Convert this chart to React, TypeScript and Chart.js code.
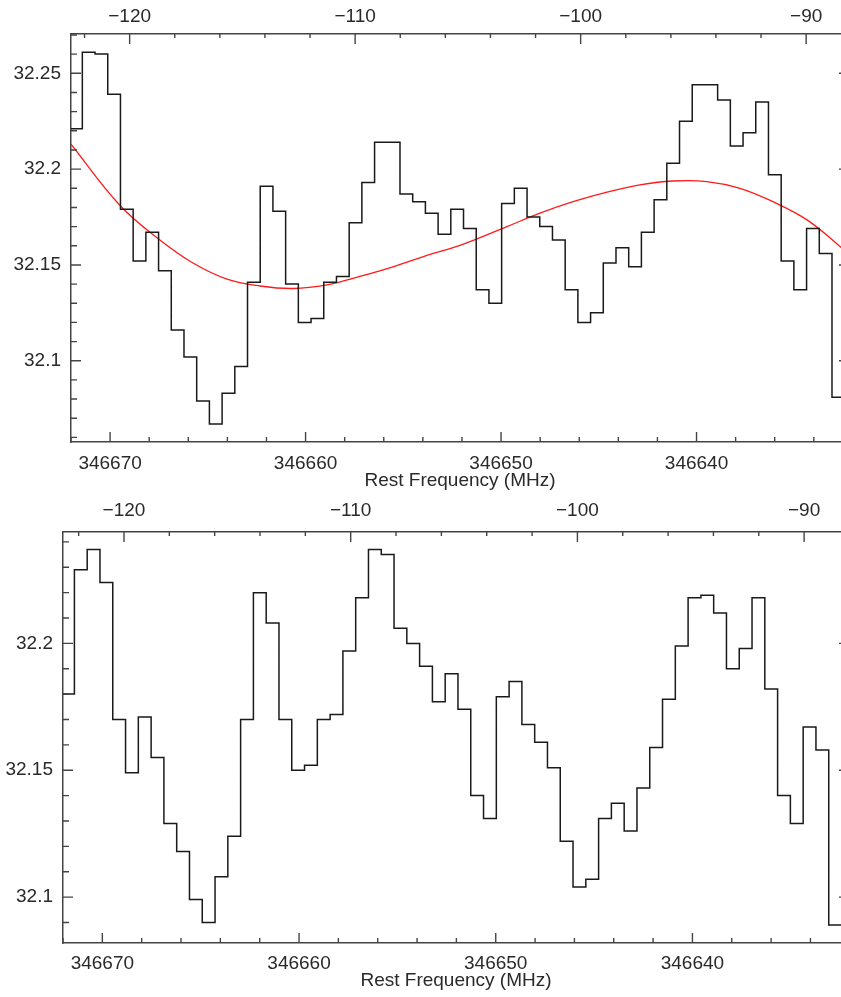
import React, { useEffect, useRef } from "react";
import { Chart, registerables } from "chart.js";

Chart.register(...registerables);

// Spectral axis: channel edges (MHz), channel width
const FIRST_CHANNEL_EDGE_MHZ = 346672.07;
const CHANNEL_WIDTH_MHZ = 0.65;

// Upper panel: spectrum (one value per channel) with baseline fit
const topSpectrum = [
  32.221, 32.261, 32.26, 32.239, 32.179, 32.152, 32.167, 32.147, 32.116, 32.102,
  32.079, 32.067, 32.083, 32.097, 32.141, 32.191, 32.178, 32.14, 32.12, 32.122,
  32.141, 32.144, 32.172, 32.193, 32.214, 32.214, 32.187, 32.183, 32.177, 32.166,
  32.179, 32.169, 32.137, 32.13, 32.182, 32.19, 32.175, 32.17, 32.163, 32.137,
  32.12, 32.125, 32.151, 32.159, 32.149, 32.167, 32.184, 32.203, 32.225, 32.244,
  32.244, 32.236, 32.212, 32.219, 32.235, 32.197, 32.152, 32.137, 32.169, 32.156,
  32.081,
];

// Lower panel: spectrum
const bottomSpectrum = [
  32.18, 32.229, 32.237, 32.224, 32.17, 32.149, 32.171, 32.155, 32.129, 32.118,
  32.099, 32.09, 32.108, 32.124, 32.17, 32.22, 32.208, 32.17, 32.15, 32.152,
  32.17, 32.172, 32.197, 32.218, 32.237, 32.235, 32.206, 32.2, 32.191, 32.177,
  32.188, 32.174, 32.14, 32.131, 32.179, 32.185, 32.168, 32.161, 32.151, 32.122,
  32.104, 32.107, 32.131, 32.137, 32.126, 32.143, 32.159, 32.178, 32.199, 32.218,
  32.219, 32.212, 32.19, 32.198, 32.218, 32.182, 32.14, 32.129, 32.167, 32.158,
  32.089,
];

// Red baseline fit (upper panel)
const fitFreqMHz = [
  346672.0, 346669.49, 346667.45, 346665.76, 346664.02, 346662.33, 346660.64,
  346658.91, 346657.22, 346655.53, 346653.79, 346652.1, 346649.7, 346648.01,
  346646.32, 346644.58, 346642.9, 346641.21, 346639.47, 346637.78, 346636.09,
  346634.35, 346632.66, 346632.2,
];
const fitFlux = [
  32.213, 32.181, 32.163, 32.151, 32.1426, 32.139, 32.1377, 32.1396, 32.144,
  32.149, 32.155, 32.1602, 32.17, 32.177, 32.183, 32.188, 32.1918, 32.1938,
  32.1935, 32.19, 32.183, 32.1735, 32.1596, 32.155,
];

// Tick labels
const freqLabelTicks = [346640, 346650, 346660, 346670];
const velocityLabelTicks = [-120, -110, -100, -90];
const fluxLabelTicks = [32.1, 32.15, 32.2, 32.25];

const FONT = { family: "'Liberation Sans', Arial, sans-serif", size: 19 };
const TEXT = "#2a2a2a";
const FRAME = "#444";
const STEP = "#1a1a1a";
const FIT = "#ff1a1a";

const near = (list: number[], v: number) => list.some((t) => Math.abs(t - v) < 1e-6);

function stepTicks(min: number, max: number, step: number) {
  const out: number[] = [];
  const a = Math.ceil(min / step - 1e-9);
  const b = Math.floor(max / step + 1e-9);
  for (let k = a; k <= b; k++) out.push(Number((k * step).toFixed(6)));
  return out;
}

const innerTicks = {
  id: "innerTicks",
  afterDraw(chart: any) {
    const { ctx, chartArea: a } = chart;
    const xs = chart.scales.x;
    const xv = chart.scales.xv;
    const y = chart.scales.y;
    ctx.save();
    ctx.strokeStyle = FRAME;
    ctx.lineWidth = 1.4;
    ctx.beginPath();
    for (const t of xs.ticks) {
      const p = xs.getPixelForValue(t.value);
      const L = near(freqLabelTicks, t.value) ? 10 : 5;
      ctx.moveTo(p, a.bottom);
      ctx.lineTo(p, a.bottom - L);
    }
    for (const t of xv.ticks) {
      const p = xv.getPixelForValue(t.value);
      const L = near(velocityLabelTicks, t.value) ? 10 : 4;
      ctx.moveTo(p, a.top);
      ctx.lineTo(p, a.top + L);
    }
    for (const t of y.ticks) {
      const p = y.getPixelForValue(t.value);
      const L = near(fluxLabelTicks, t.value) ? 10 : 6;
      ctx.moveTo(a.left, p);
      ctx.lineTo(a.left + L, p);
      ctx.moveTo(a.right, p);
      ctx.lineTo(a.right - L, p);
    }
    ctx.stroke();
    ctx.restore();
  },
};

type Panel = {
  height: number;
  left: number;
  topAxis: number;
  bottomAxis: number;
  freqMin: number;
  freqMax: number;
  velMin: number;
  velMax: number;
  yMin: number;
  yMax: number;
  spectrum: number[];
  withFit: boolean;
  topPad: number;
  bottomPad: number;
  titlePad: number;
};

const CANVAS_W = 849;

const panels: Panel[] = [
  {
    height: 495, left: 71, topAxis: 34, bottomAxis: 53,
    freqMin: 346632.2, freqMax: 346672.0, velMin: -122.6, velMax: -88.1,
    yMin: 32.0576, yMax: 32.2705, spectrum: topSpectrum, withFit: true,
    topPad: 6, bottomPad: 10, titlePad: 3,
  },
  {
    height: 502, left: 63, topAxis: 37, bottomAxis: 54,
    freqMin: 346632.04, freqMax: 346672.0, velMin: -122.69, velMax: -88.02,
    yMin: 32.0819, yMax: 32.2439, spectrum: bottomSpectrum, withFit: false,
    topPad: 10, bottomPad: 9, titlePad: 5,
  },
];

function buildConfig(p: Panel): any {
  const stepData = p.spectrum.map((v, i) => ({
    x: FIRST_CHANNEL_EDGE_MHZ - i * CHANNEL_WIDTH_MHZ,
    y: v,
  }));
  stepData.push({
    x: FIRST_CHANNEL_EDGE_MHZ - p.spectrum.length * CHANNEL_WIDTH_MHZ,
    y: p.spectrum[p.spectrum.length - 1],
  });
  const datasets: any[] = [
    {
      data: stepData,
      stepped: true,
      borderColor: STEP,
      borderWidth: 1.5,
      pointRadius: 0,
      fill: false,
      xAxisID: "x",
      yAxisID: "y",
    },
  ];
  if (p.withFit) {
    datasets.push({
      data: fitFreqMHz.map((f, i) => ({ x: f, y: fitFlux[i] })),
      borderColor: FIT,
      borderWidth: 1.3,
      pointRadius: 0,
      tension: 0.4,
      fill: false,
      xAxisID: "x",
      yAxisID: "y",
    });
  }
  const border = { display: true, color: FRAME, width: 1.5 };
  const grid = { display: false, drawTicks: false };
  return {
    type: "line",
    data: { datasets },
    options: {
      animation: false,
      responsive: false,
      maintainAspectRatio: false,
      events: [],
      layout: { padding: 0 },
      plugins: {
        legend: { display: false },
        tooltip: { enabled: false },
        title: { display: false },
      },
      scales: {
        x: {
          type: "linear",
          position: "bottom",
          reverse: true,
          min: p.freqMin,
          max: p.freqMax,
          grid,
          border,
          ticks: {
            autoSkip: false,
            maxRotation: 0,
            minRotation: 0,
            padding: p.bottomPad,
            font: FONT,
            color: TEXT,
            callback: (v: number) => (near(freqLabelTicks, v) ? String(Math.round(v)) : ""),
          },
          title: {
            display: true,
            text: "Rest Frequency (MHz)",
            font: FONT,
            color: TEXT,
            padding: { top: 0, bottom: p.titlePad },
          },
          afterBuildTicks: (s: any) => {
            s.ticks = stepTicks(p.freqMin, p.freqMax, 2).map((value) => ({ value }));
          },
          afterFit: (s: any) => {
            s.height = p.bottomAxis;
          },
        },
        xv: {
          type: "linear",
          position: "top",
          min: p.velMin,
          max: p.velMax,
          grid,
          border,
          ticks: {
            autoSkip: false,
            maxRotation: 0,
            minRotation: 0,
            padding: p.topPad,
            font: FONT,
            color: TEXT,
            callback: (v: number) =>
              near(velocityLabelTicks, v) ? "\u2212" + String(Math.abs(Math.round(v))) : "",
          },
          afterBuildTicks: (s: any) => {
            s.ticks = stepTicks(p.velMin, p.velMax, 2).map((value) => ({ value }));
          },
          afterFit: (s: any) => {
            s.height = p.topAxis;
          },
        },
        y: {
          type: "linear",
          position: "left",
          min: p.yMin,
          max: p.yMax,
          grid,
          border,
          ticks: {
            autoSkip: false,
            padding: 10,
            font: FONT,
            color: TEXT,
            callback: (v: number) => (near(fluxLabelTicks, v) ? String(Number(v.toFixed(2))) : ""),
          },
          afterBuildTicks: (s: any) => {
            s.ticks = stepTicks(p.yMin, p.yMax, 0.01).map((value) => ({ value }));
          },
          afterFit: (s: any) => {
            s.width = p.left;
          },
        },
      },
    },
    plugins: [innerTicks],
  };
}

function PanelChart({ panel, top }: { panel: Panel; top: number }) {
  const ref = useRef<HTMLCanvasElement | null>(null);
  useEffect(() => {
    if (!ref.current) return;
    const chart = new Chart(ref.current, buildConfig(panel));
    return () => chart.destroy();
  }, [panel]);
  return (
    <div style={{ position: "absolute", left: 0, top }}>
      <canvas
        ref={ref}
        width={CANVAS_W}
        height={panel.height}
        style={{ display: "block", width: CANVAS_W, height: panel.height }}
      />
    </div>
  );
}

export default function App() {
  return (
    <div
      style={{
        position: "fixed",
        left: 0,
        top: 0,
        width: 841,
        height: 997,
        overflow: "hidden",
        background: "#fff",
      }}
    >
      <PanelChart panel={panels[0]} top={0} />
      <PanelChart panel={panels[1]} top={495} />
    </div>
  );
}
